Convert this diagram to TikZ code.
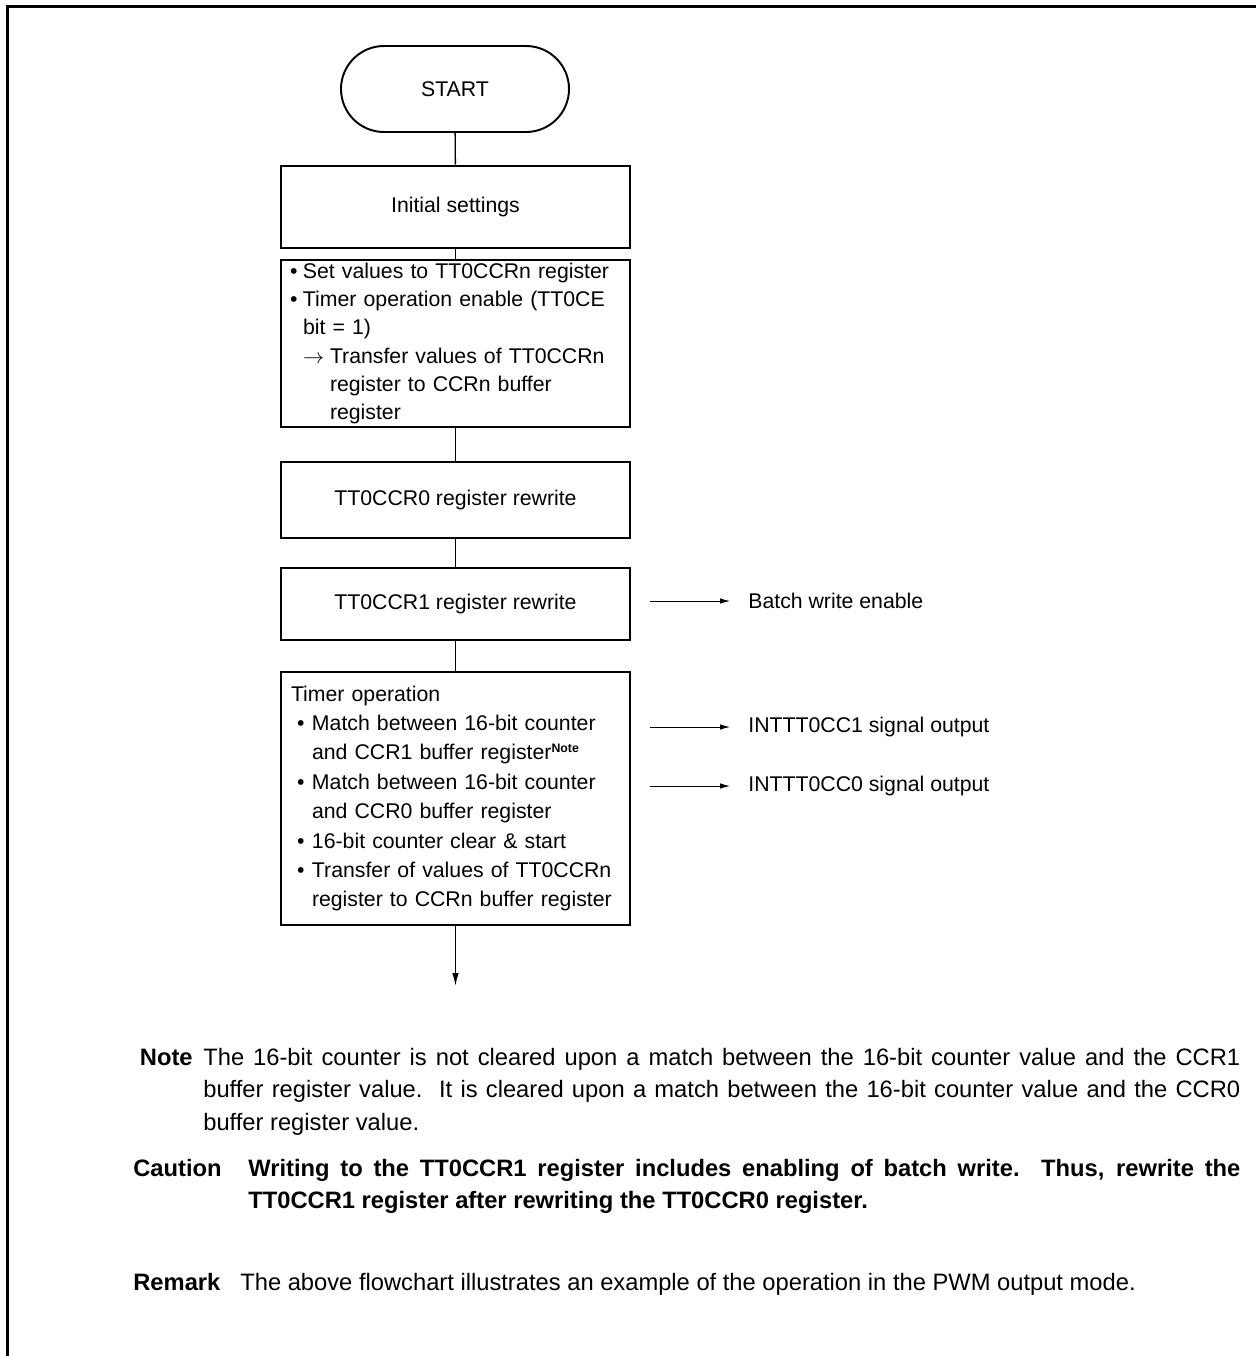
\documentclass[tikz,border=0pt]{standalone}
\usepackage{fontspec}
\setmainfont{Liberation Sans}
\usetikzlibrary{arrows.meta}

\newcommand{\bitem}{\makebox[0.26cm][l]{\textbullet}}
\newcommand{\titem}{\hspace*{0.12cm}\makebox[0.30cm][l]{\textbullet}}
\newcommand{\tcont}{\hspace*{0.42cm}}

\begin{document}
\begin{tikzpicture}[
    frameline/.style={line width=1.7pt},
    term/.style={draw, line width=1.1pt, rounded corners=0.86cm, minimum width=4.56cm, minimum height=1.72cm},
    proc/.style={draw, line width=1.6pt, minimum width=6.98cm, inner sep=0pt},
    flow/.style={line width=0.8pt},
    sigarrow/.style={line width=0.5pt, -{Latex[length=0.2cm, width=0.11cm]}},
    sig/.style={anchor=west, inner xsep=0.36cm, inner ysep=0pt},
    txt/.style={font=\fontsize{12.1}{16}\selectfont},
    notepar/.style={font=\fontsize{13.5}{18.7}\selectfont, anchor=base west, inner sep=0pt, align=justify},
    lab/.style={font=\fontsize{13.5}{18.7}\selectfont\bfseries, anchor=base west, inner sep=0pt}
]
\useasboundingbox (0,0) rectangle (25.12,-27.12);

% Frame
\draw[frameline] (0.15,-27.12) -- (0.15,-0.13) -- (25.12,-0.13);

% Flowchart
\node[term, txt] (start) at (9.10,-1.78) {START};
\node[proc, txt, minimum height=1.64cm] (init) at (9.11,-4.14) {Initial settings};
\node[proc, txt, minimum height=3.34cm, inner xsep=0.18cm, text width=6.62cm, align=left] (setv) at (9.11,-6.87)
    {\bitem Set values to TT0CCRn register\\
     \bitem Timer operation enable (TT0CE\\
     \hspace*{0.26cm}bit = 1)\\
     \hspace*{0.26cm}\makebox[0.54cm][l]{$\rightarrow$}Transfer values of TT0CCRn\\
     \hspace*{0.8cm}register to CCRn buffer\\
     \hspace*{0.8cm}register};
\node[proc, txt, minimum height=1.52cm] (ccr0) at (9.11,-10.0) {TT0CCR0 register rewrite};
\node[proc, txt, minimum height=1.44cm] (ccr1) at (9.11,-12.08) {TT0CCR1 register rewrite};
\node[proc, font=\fontsize{12.1}{16.7}\selectfont, minimum height=5.06cm, inner xsep=0.2cm, text width=6.58cm, align=left] (timer) at (9.11,-15.97)
    {Timer operation\\
     \titem Match between 16-bit counter\\
     \tcont and CCR1 buffer register\textsuperscript{\fontsize{7}{8}\selectfont\bfseries Note}\\
     \titem Match between 16-bit counter\\
     \tcont and CCR0 buffer register\\
     \titem 16-bit counter clear \& start\\
     \titem Transfer of values of TT0CCRn\\
     \tcont register to CCRn buffer register};
\coordinate (flowend) at (9.11,-19.72);

\draw[flow] (start) -- (init);
\draw[flow] (init) -- (setv);
\draw[flow] (setv) -- (ccr0);
\draw[flow] (ccr0) -- (ccr1);
\draw[flow] (ccr1) -- (timer);
\draw[flow, -{Latex[length=0.26cm, width=0.13cm]}] (timer) -- (flowend);

% Outputs
\node[sig, txt] (batch) at (14.6,-12.02) {Batch write enable};
\node[sig, txt] (cc1) at (14.6,-14.54) {INTTT0CC1 signal output};
\node[sig, txt] (cc0) at (14.6,-15.72) {INTTT0CC0 signal output};
\coordinate (batchtail) at (13.0,-12.02);
\coordinate (cc1tail) at (13.0,-14.54);
\coordinate (cc0tail) at (13.0,-15.72);
\draw[sigarrow] (batchtail) -- (batch);
\draw[sigarrow] (cc1tail) -- (cc1);
\draw[sigarrow] (cc0tail) -- (cc0);

% Notes
\node[lab, anchor=base east] (notelab) at (3.86,-21.3) {Note};
\node[notepar, text width=20.74cm] (notetxt) at (4.06,-21.3)
    {The 16-bit counter is not cleared upon a match between the 16-bit counter value and the CCR1\linebreak
     buffer register value.\ \ It is cleared upon a match between the 16-bit counter value and the CCR0\linebreak
     buffer register value.};
\node[lab] (cautlab) at (2.66,-23.52) {Caution};
\node[notepar, font=\fontsize{13.5}{18.7}\selectfont\bfseries, text width=19.84cm] (cauttxt) at (4.96,-23.52)
    {Writing to the TT0CCR1 register includes enabling of batch write.\ \ Thus, rewrite the\linebreak
     TT0CCR1 register after rewriting the TT0CCR0 register.};
\node[lab] (remlab) at (2.66,-25.8) {Remark};
\node[notepar, text width=19.9cm] (remtxt) at (4.8,-25.8)
    {The above flowchart illustrates an example of the operation in the PWM output mode.};
\end{tikzpicture}
\end{document}
